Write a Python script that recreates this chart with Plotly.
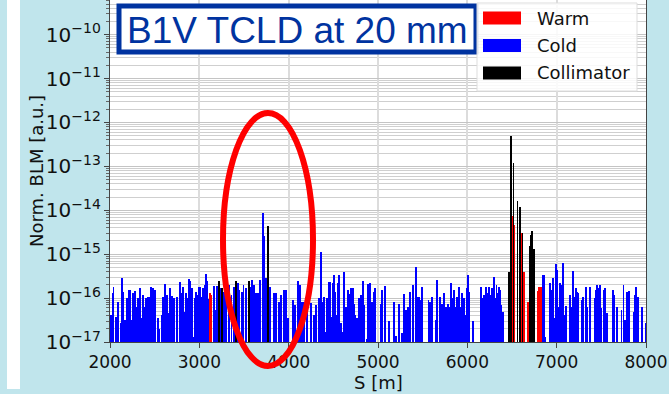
import plotly.graph_objects as go

# ---------------- data ----------------
cold_s = [2009, 2031, 2039, 2065, 2087, 2121, 2132, 2143, 2166, 2188, 2200, 2211, 2222, 2245, 2256, 2278,
          2301, 2312, 2334, 2357, 2368, 2390, 2402, 2424, 2446, 2461, 2480, 2506, 2540, 2551, 2585, 2596,
          2619, 2637, 2660, 2675, 2693, 2720, 2749, 2787, 2806, 2817, 2839, 2851, 2873, 2884, 2895, 2918,
          2940, 2951, 2963, 2974, 2996, 3007, 3030, 3041, 3064, 3075, 3086, 3097, 3165, 3187, 3198,
          3207, 3241, 3278, 3300, 3330, 3360, 3390, 3430, 3450, 3476, 3495, 3525, 3551, 3570, 3592, 3615,
          3637, 3660, 3682, 3708, 3716, 3722, 3731, 3749, 3761, 3794, 3839, 3862, 3888, 3914, 3944, 3970,
          3993, 4049, 4071, 4101, 4123, 4150, 4176, 4206, 4251, 4281, 4310, 4337, 4363, 4380, 4393,
          4409, 4428, 4450, 4461, 4473, 4487, 4499, 4510, 4521, 4536, 4551, 4562, 4585, 4611, 4622, 4637,
          4667, 4686, 4701, 4716, 4727, 4746, 4764, 4783, 4798, 4813, 4832, 4843, 4873, 4884, 4895, 4910,
          4936, 4951, 4966, 5034, 5049, 5075, 5127, 5176, 5206, 5236, 5266, 5288, 5296, 5314, 5333, 5363,
          5393, 5423, 5438, 5460, 5479, 5494, 5565, 5587, 5602,
          5645, 5656, 5690, 5701, 5719, 5742, 5757, 5776, 5787, 5806, 5821, 5839, 5854, 5869, 5888, 5907,
          5918, 5936, 5951, 5966, 5978, 5993, 6007, 6019, 6064, 6157, 6176, 6187, 6206, 6225, 6243, 6262,
          6277, 6296, 6311, 6326, 6341, 6356, 6371, 6382, 6401, 6464,
          6850, 6862, 6873, 6921, 6933, 6944, 6963, 6978, 6989, 7000, 7015, 7030, 7041, 7056, 7075, 7090,
          7108, 7153, 7165, 7187, 7206, 7217, 7232, 7243, 7284, 7296, 7326, 7337, 7374, 7423, 7438, 7456,
          7471, 7486, 7497, 7524, 7542, 7568, 7625, 7636, 7647, 7673, 7726, 7748, 7767, 7786, 7812, 7861,
          7872, 7887, 7909, 7958, 7995]
cold_v = [4.1e-17, 1.3e-16, 1.8e-16, 3.8e-17, 8.0e-17, 2.7e-17, 2.8e-16, 1.4e-16, 3.2e-17, 9.9e-17, 1.0e-16,
          1.5e-16, 1.5e-16, 3.2e-17, 1.3e-16, 1.45e-16, 6.4e-17, 9.9e-17, 1.7e-16, 3.5e-17, 1.2e-16, 6.4e-17,
          1.0e-16, 1.07e-16, 1.07e-16, 1.75e-16, 1.7e-16, 1.5e-16, 3.6e-17, 2.0e-17, 4.1e-17, 1.07e-16,
          2.1e-16, 1.2e-16, 4.5e-17, 1.7e-16, 1.1e-16, 1.0e-16, 1.05e-16, 2.3e-16, 1.3e-16, 1.8e-16, 4.9e-17,
          1.3e-16, 9.9e-17, 2.7e-16, 2.4e-16, 1.7e-16, 1.3e-17, 9.9e-17, 1.4e-16, 1.2e-16, 1.8e-16, 1.8e-16,
          1.07e-16, 1.7e-16, 2.0e-16, 3.5e-16, 2.4e-16, 9.5e-17, 1.9e-16, 5.3e-17, 1.9e-16,
          1.8e-16, 1.7e-16, 1.4e-16, 1.5e-16, 2.0e-16, 1.2e-16, 1.8e-16, 2.2e-16, 1.5e-16, 1.4e-16, 2.0e-16,
          1.7e-16, 2.1e-16, 1.8e-16, 2.6e-16, 2.0e-16, 1.3e-16, 1.3e-16, 2.6e-16, 1.7e-16, 8.9e-15, 2.6e-15,
          2.8e-16, 2.8e-16, 2.4e-16, 1.8e-16, 1.3e-16, 1.3e-16, 8.3e-17, 1.2e-16, 1.5e-16, 1.5e-16, 3.5e-17,
          9.0e-17, 7.0e-17, 2.4e-16, 2.0e-16, 8.3e-17, 8.3e-17, 6.4e-17, 7.6e-17, 4.1e-17, 7.0e-17, 9.9e-17,
          1.1e-15, 8.3e-17, 1.07e-16,
          1.7e-17, 1.0e-16, 2.3e-16, 2.3e-16, 2.7e-17, 3.8e-17, 2.2e-16, 3.3e-16, 1.4e-16, 4.1e-17, 2.2e-16,
          3.3e-16, 2.7e-17, 1.7e-17, 4.0e-16, 6.4e-17, 1.5e-16, 1.25e-16, 1.7e-16, 1.7e-16, 7.3e-17, 4.1e-17,
          3.5e-17, 9.9e-17, 2.3e-17, 1.2e-16, 2.4e-16, 7.0e-17, 1.2e-17, 2.1e-16, 1.7e-16, 2.2e-16, 8.3e-17,
          1.4e-16, 1.7e-16, 7.3e-17, 1.5e-16, 1.9e-16, 3.0e-17, 8.3e-17, 1.4e-17, 7.3e-17, 1.6e-17, 1.25e-16,
          4.5e-17, 5.3e-17, 6.4e-17, 1.4e-16, 2.0e-16, 5.2e-16, 1.07e-16, 1.07e-16, 9.0e-17, 1.8e-16, 9.0e-17,
          8.3e-17, 1.07e-16,
          3.2e-17, 2.6e-16, 1.07e-16, 5.3e-17, 7.3e-17, 1.3e-16, 6.4e-17, 4.9e-17, 7.3e-17, 6.4e-17, 2.2e-16,
          9.9e-17, 1.5e-16, 6.4e-17, 1.07e-16, 1.8e-16, 6.4e-17, 1.3e-16, 4.9e-17, 9.9e-17, 4.1e-17, 1.7e-16,
          3.3e-16, 1.4e-16, 3.0e-17, 1.8e-16, 9.9e-17, 1.2e-16, 1.8e-16, 1.3e-16, 1.8e-16, 1.2e-16, 1.7e-16,
          3.1e-16, 9.9e-17, 2.0e-16, 1.3e-16, 1.8e-16, 1.5e-16, 7.0e-17, 4.9e-17, 9.9e-17,
          3.4e-16, 3.3e-16, 1.3e-17, 2.2e-16, 8.3e-17, 1.5e-16, 2.8e-16, 3.6e-17, 5.9e-16, 4.3e-16, 6.4e-17,
          6.0e-17, 2.2e-16, 2.0e-16, 6.2e-16, 4.1e-17, 6.6e-17, 1.2e-16, 6.2e-17, 4.1e-16, 1.07e-16, 1.7e-16,
          1.4e-16, 1.3e-16, 9.0e-17, 1.07e-16, 1.8e-16, 6.4e-17, 1.8e-16, 9.9e-17, 1.5e-16, 2.0e-16, 1.7e-16,
          2.0e-16, 6.0e-17, 1.5e-16, 1.7e-16, 4.5e-17, 1.5e-16, 1.5e-16, 1.2e-16, 6.4e-17, 5.3e-17, 2.0e-16,
          3.2e-17, 1.4e-16, 1.45e-16, 4.9e-17, 1.2e-16, 1.8e-16, 1.07e-16, 6.4e-17, 2.7e-17]

warm_s = [3120, 3135, 6506, 6525, 6607, 6630, 6637, 6682, 6787, 6806, 6822]
warm_v = [1.3e-16, 1.2e-16, 7.4e-15, 4.7e-15, 3.1e-15, 4.0e-16, 5.9e-17, 8.3e-17, 1.45e-16, 1.8e-16, 1.8e-16]

coll_s = [3225, 3250, 3409, 3558, 3772, 6470, 6485, 6490, 6517, 6562, 6592, 6618, 6701, 6712, 6723, 6749]
coll_v = [2.4e-16, 1.7e-16, 2.4e-16, 2.5e-16, 4.3e-15, 4.0e-16, 2.8e-13, 5.0e-13, 1.2e-13, 1.6e-14,
          1.2e-14, 3.0e-15, 1.5e-15, 2.8e-15, 3.4e-15, 1.3e-15]

series_names = ["Warm", "Cold", "Collimator"]
series_colors = ["#ff0000", "#0000ff", "#000000"]
title_text = "B1V TCLD at 20 mm"
x_title = "S [m]"
y_title = "Norm. BLM [a.u.]"
x_ticks = [2000, 3000, 4000, 5000, 6000, 7000, 8000]

# ---------------- figure ----------------
W, H = 669, 394
ML, MR, MT, MB = 110, 23, 0, 52
PW, PH = W - ML - MR, H - MT - MB


def px(x):
    return (x - ML) / PW


def py(y):
    return (H - MB - y) / PH


BG = "#c0e5ec"
FONT = "DejaVu Sans"

fig = go.Figure()
for name, color, xs, vs in [("Warm", series_colors[0], warm_s, warm_v),
                            ("Cold", series_colors[1], cold_s, cold_v),
                            ("Collimator", series_colors[2], coll_s, coll_v)]:
    fig.add_trace(go.Bar(x=xs, y=vs, name=name, width=10,
                         marker=dict(color=color, line=dict(width=0)),
                         showlegend=False))

shapes = []
annotations = []

# white strip at left of the slide
shapes.append(dict(type="rect", xref="paper", yref="paper", x0=px(7), x1=px(20), y0=py(389), y1=py(0),
                   fillcolor="white", line=dict(width=0), layer="below"))

# axis titles
annotations.append(dict(text=x_title, xref="paper", yref="paper", x=px(378), y=py(371),
                        xanchor="center", yanchor="top", showarrow=False, borderpad=0,
                        font=dict(family=FONT, size=18, color="#111111")))
annotations.append(dict(text=y_title, xref="paper", yref="paper", x=px(36), y=py(171),
                        xanchor="center", yanchor="middle", showarrow=False, textangle=-90,
                        font=dict(family=FONT, size=18, color="#111111")))

# title box
shapes.append(dict(type="rect", xref="paper", yref="paper", x0=px(119), x1=px(476), y0=py(52), y1=py(6),
                   fillcolor="white", line=dict(color="#0033a0", width=5), layer="above"))
annotations.append(dict(text=title_text, xref="paper", yref="paper", x=px(297.5), y=py(30),
                        xanchor="center", yanchor="middle", showarrow=False,
                        font=dict(family="Liberation Sans", size=37, color="#0033a0")))

# legend (matplotlib style)
shapes.append(dict(type="rect", xref="paper", yref="paper", x0=px(477), x1=px(637), y0=py(91), y1=py(3),
                   fillcolor="rgba(255,255,255,0.85)", line=dict(color="#dddddd", width=1), layer="above"))
for i, (nm, col) in enumerate(zip(series_names, series_colors)):
    yc = 18 + i * 27.5
    shapes.append(dict(type="rect", xref="paper", yref="paper", x0=px(483), x1=px(521),
                       y0=py(yc + 6.5), y1=py(yc - 6.5), fillcolor=col, line=dict(width=0), layer="above"))
    annotations.append(dict(text=nm, xref="paper", yref="paper", x=px(535), y=py(yc),
                            xanchor="left", yanchor="middle", showarrow=False,
                            font=dict(family=FONT, size=18, color="#111111")))

# red ellipse highlight
shapes.append(dict(type="circle", xref="paper", yref="paper", x0=px(223), x1=px(313), y0=py(366), y1=py(113),
                   line=dict(color="#ff0000", width=6), layer="above"))

fig.update_layout(
    width=W, height=H,
    margin=dict(l=ML, r=MR, t=MT, b=MB, pad=0),
    paper_bgcolor=BG, plot_bgcolor="white",
    barmode="overlay", bargap=0,
    shapes=shapes, annotations=annotations,
    font=dict(family=FONT, size=17, color="#111111"),
    xaxis=dict(range=[2000, 8000], tickvals=x_ticks, ticks="outside", ticklen=5, tickcolor="#444",
               showgrid=True, gridcolor="#dcdcdc", gridwidth=1.5,
               showline=True, linecolor="#444", linewidth=1, mirror=True, zeroline=False,
               tickfont=dict(size=17)),
    yaxis=dict(type="log", range=[-17, -9.21], dtick=1, exponentformat="power",
               ticks="outside", ticklen=5, tickcolor="#444",
               showgrid=True, gridcolor="#c4c4c4", gridwidth=1,
               minor=dict(ticks="outside", ticklen=3, tickcolor="#666", showgrid=True,
                          gridcolor="#cfcfcf", gridwidth=1),
               showline=True, linecolor="#444", linewidth=1, mirror=True, zeroline=False,
               tickfont=dict(size=16)),
)

fig.write_html("out.html")
